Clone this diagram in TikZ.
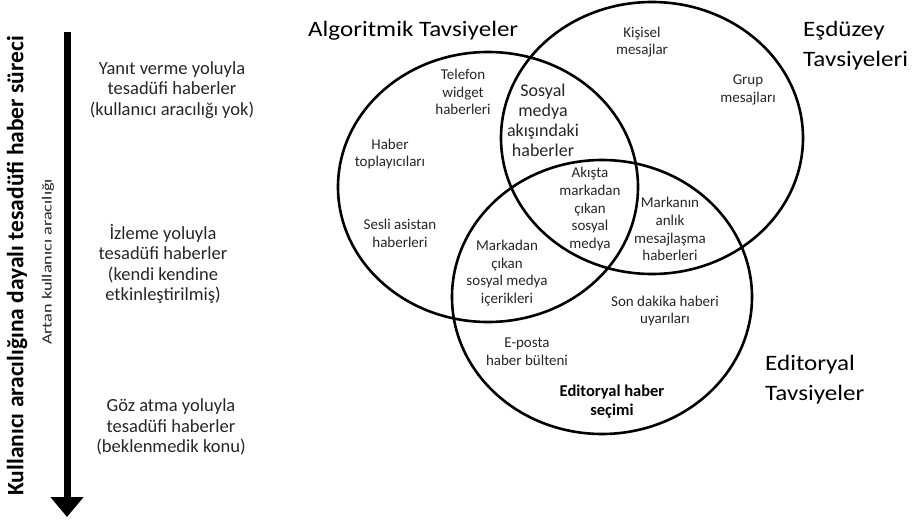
\documentclass[tikz,border=0pt]{standalone}
\usepackage{fontspec}
\usepackage{graphicx}
\setmainfont{Carlito}
\usetikzlibrary{arrows.meta}

% slightly wide lettering used in the reference titles
\newcommand{\widetext}[2][1.14]{\scalebox{#1}[1]{#2}}

\begin{document}
\begin{tikzpicture}[
    x=1pt, y=-1pt,
    venn/.style={draw=black, line width=2.6pt},
    bigarrow/.style={line width=7pt, -{Triangle[width=32pt, length=20pt]}},
    label_node/.style={align=center, text=black!85, inner sep=0pt, font=\fontsize{15}{17.7}\selectfont},
    label_big/.style={align=center, text=black!85, inner sep=0pt, font=\fontsize{18}{20}\selectfont},
    side_node/.style={align=center, text=black!85, inner sep=0pt, font=\fontsize{18.5}{20.5}\selectfont},
    title/.style={align=left, anchor=west, inner sep=0pt, font=\fontsize{22}{30}\selectfont}
]
\useasboundingbox (0,0) rectangle (914,522);

% --- Left axis ---
\coordinate (arr_top) at (67,32);
\coordinate (arr_bot) at (67,517);
\draw[bigarrow] (arr_top) -- (arr_bot);
\node[rotate=90, inner sep=0pt, font=\fontsize{23.5}{26}\selectfont\bfseries] (axis_main) at (17,266) {Kullanıcı aracılığına dayalı tesadüfi haber süreci};
\node[rotate=90, inner sep=0pt, text=black!85, font=\fontsize{14}{16}\selectfont] (axis_sub) at (48,262) {\widetext[1.3]{Artan kullanıcı aracılığı}};

% --- Left descriptions ---
\node[side_node] (yanit) at (172,90) {Yanıt verme yoluyla\\tesadüfi haberler\\(kullanıcı aracılığı yok)};
\node[side_node] (izleme) at (163,264) {İzleme yoluyla\\tesadüfi haberler\\(kendi kendine\\etkinleştirilmiş)};
\node[side_node] (goz) at (171,427) {Göz atma yoluyla\\tesadüfi haberler\\(beklenmedik konu)};

% --- Circles ---
\coordinate (c_algo) at (488,187);
\coordinate (c_peer) at (652,138);
\coordinate (c_edit) at (602,297);
\draw[venn] (c_algo) ellipse [x radius=150, y radius=135];
\draw[venn] (c_peer) ellipse [x radius=151, y radius=136];
\draw[venn] (c_edit) ellipse [x radius=150, y radius=137];

% --- Titles ---
\node[title] (t_algo) at (308,31) {\widetext{Algoritmik Tavsiyeler}};
\node[title] (t_peer) at (803,46) {\widetext{Eşdüzey}\\\widetext{Tavsiyeleri}};
\node[title] (t_edit) at (765,380) {\widetext{Editoryal}\\\widetext{Tavsiyeler}};

% --- Algorithmic only ---
\node[label_node] (telefon) at (463,92) {Telefon\\widget\\haberleri};
\node[label_node] (toplayici) at (390,154) {Haber\\toplayıcıları};
\node[label_node] (sesli) at (400,233) {Sesli asistan\\haberleri};

% --- Overlaps ---
\node[label_big] (sosyal) at (543,120) {Sosyal\\medya\\akışındaki\\haberler};
\node[label_node] (akista) at (590,209) {Akışta\\markadan\\çıkan\\sosyal\\medya};
\node[label_node] (markadan) at (507,273) {Markadan\\çıkan\\sosyal medya\\içerikleri};
\node[label_node] (markanin) at (670,229) {Markanın\\anlık\\mesajlaşma\\haberleri};

% --- Peer only ---
\node[label_node] (kisisel) at (642,42) {Kişisel\\mesajlar};
\node[label_node] (grup) at (748,90) {Grup\\mesajları};

% --- Editorial only ---
\node[label_node] (sondakika) at (665,311) {Son dakika haberi\\uyarıları};
\node[label_node] (eposta) at (527,352) {E-posta\\haber bülteni};
\node[label_node, font=\fontsize{16.5}{19}\selectfont\bfseries, text=black] (secim) at (612,402) {Editoryal haber\\seçimi};

\end{tikzpicture}
\end{document}
